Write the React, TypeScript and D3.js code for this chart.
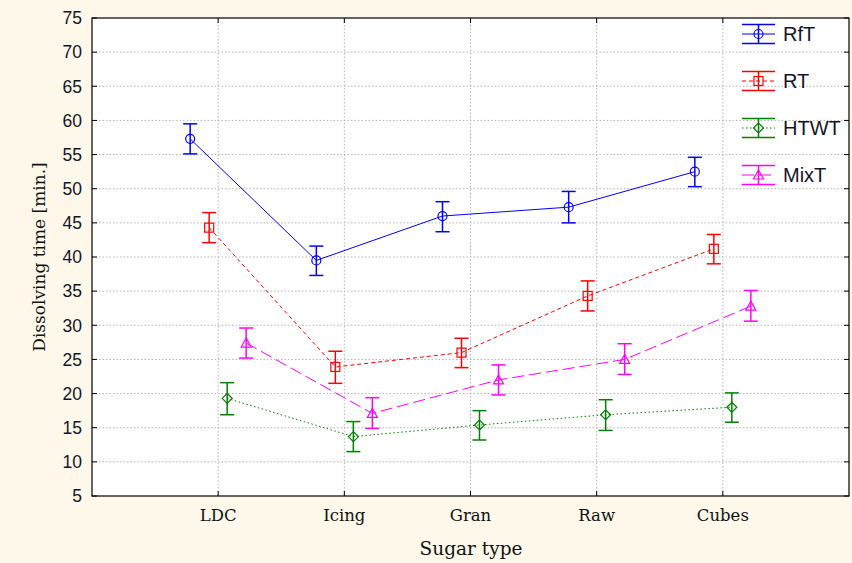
import React from "react";
import * as d3 from "d3";

const categories = ["LDC", "Icing", "Gran", "Raw", "Cubes"];
const seriesNames = ["RfT", "RT", "HTWT", "MixT"];

const rftMean = [57.3, 39.5, 46.0, 47.3, 52.5];
const rftLow = [55.1, 37.3, 43.7, 45.0, 50.3];
const rftHigh = [59.5, 41.6, 48.1, 49.6, 54.6];

const rtMean = [44.3, 23.9, 26.0, 34.3, 41.2];
const rtLow = [42.1, 21.5, 23.8, 32.1, 39.0];
const rtHigh = [46.5, 26.2, 28.1, 36.5, 43.3];

const htwtMean = [19.3, 13.7, 15.4, 16.9, 18.0];
const htwtLow = [16.9, 11.5, 13.2, 14.6, 15.8];
const htwtHigh = [21.6, 15.9, 17.5, 19.1, 20.1];

const mixMean = [27.4, 17.1, 22.0, 25.0, 32.8];
const mixLow = [25.2, 14.9, 19.8, 22.8, 30.6];
const mixHigh = [29.6, 19.4, 24.2, 27.3, 35.1];

const yTicks = [5, 10, 15, 20, 25, 30, 35, 40, 45, 50, 55, 60, 65, 70, 75];

const W = 852;
const H = 563;
const L = 92;
const R = 849;
const T = 18;
const B = 496;

const styles = [
  { color: "#0000ff", dash: "none", marker: "circle", offset: -28 },
  { color: "#ff0000", dash: "4,3", marker: "square", offset: -9 },
  { color: "#008000", dash: "1.5,2.5", marker: "diamond", offset: 9 },
  { color: "#ff00ff", dash: "12,5", marker: "triangle", offset: 28 },
];

const data = [
  { mean: rftMean, low: rftLow, high: rftHigh },
  { mean: rtMean, low: rtLow, high: rtHigh },
  { mean: htwtMean, low: htwtLow, high: htwtHigh },
  { mean: mixMean, low: mixLow, high: mixHigh },
];

const SERIF = "DejaVu Serif, serif";
const SANS = "Liberation Sans, Arial, sans-serif";

function Marker({ kind, x, y, color }: { kind: string; x: number; y: number; color: string }) {
  const sw = 1.2;
  if (kind === "circle") return <circle cx={x} cy={y} r={4.5} fill="none" stroke={color} strokeWidth={sw} />;
  if (kind === "square") return <rect x={x - 4.5} y={y - 4.5} width={9} height={9} fill="none" stroke={color} strokeWidth={sw} />;
  if (kind === "diamond")
    return <path d={`M${x - 5},${y}L${x},${y - 5}L${x + 5},${y}L${x},${y + 5}Z`} fill="none" stroke={color} strokeWidth={sw} />;
  return <path d={`M${x},${y - 5}L${x + 5},${y + 4}L${x - 5},${y + 4}Z`} fill="none" stroke={color} strokeWidth={sw} />;
}

export default function App() {
  const x = d3.scalePoint<string>().domain(categories).range([L, R]).padding(1);
  const y = d3.scaleLinear().domain([5, 75]).range([B, T]);

  return (
    <div style={{ position: "absolute", left: 0, top: 0 }}>
      <svg width={W} height={H} style={{ display: "block" }}>
        <rect x={0} y={0} width={W} height={H} fill="#fdf8e9" />
        <rect x={L} y={T} width={R - L} height={B - T} fill="#ffffff" />
        {/* grid */}
        {yTicks.slice(1, -1).map((t) => (
          <line key={"gy" + t} x1={L} x2={R} y1={y(t)} y2={y(t)} stroke="#b4b4b4" strokeWidth={1} strokeDasharray="1.5,2" />
        ))}
        {categories.map((c) => (
          <line key={"gx" + c} x1={x(c)!} x2={x(c)!} y1={T} y2={B} stroke="#b4b4b4" strokeWidth={1} strokeDasharray="1.5,2" />
        ))}
        {/* ticks */}
        {yTicks.map((t) => (
          <g key={"ty" + t}>
            <line x1={L} x2={L + 5} y1={y(t)} y2={y(t)} stroke="#000" />
            <line x1={R - 5} x2={R} y1={y(t)} y2={y(t)} stroke="#000" />
            <text x={82} y={y(t)} dy="0.36em" textAnchor="end" fontFamily={SANS} fontSize={17.5} fill="#15152a">
              {t}
            </text>
          </g>
        ))}
        {categories.map((c) => (
          <g key={"tx" + c}>
            <line x1={x(c)!} x2={x(c)!} y1={B} y2={B - 5} stroke="#000" />
            <line x1={x(c)!} x2={x(c)!} y1={T} y2={T + 5} stroke="#000" />
            <text x={x(c)!} y={521} textAnchor="middle" fontFamily={SERIF} fontSize={16.5} fill="#111">
              {c}
            </text>
          </g>
        ))}
        {/* series */}
        {data.map((s, i) => {
          const st = styles[i];
          const line = d3
            .line<number>()
            .x((_, j) => x(categories[j])! + st.offset)
            .y((v) => y(v));
          return (
            <g key={"s" + i}>
              <path d={line(s.mean)!} fill="none" stroke={st.color} strokeWidth={1} strokeDasharray={st.dash} />
              {s.mean.map((v, j) => {
                const cx = x(categories[j])! + st.offset;
                return (
                  <g key={j}>
                    <line x1={cx} x2={cx} y1={y(s.low[j])} y2={y(s.high[j])} stroke={st.color} strokeWidth={1.5} />
                    <line x1={cx - 7} x2={cx + 7} y1={y(s.low[j])} y2={y(s.low[j])} stroke={st.color} strokeWidth={1.5} />
                    <line x1={cx - 7} x2={cx + 7} y1={y(s.high[j])} y2={y(s.high[j])} stroke={st.color} strokeWidth={1.5} />
                    <Marker kind={st.marker} x={cx} y={y(v)} color={st.color} />
                  </g>
                );
              })}
            </g>
          );
        })}
        {/* legend */}
        {seriesNames.map((n, i) => {
          const st = styles[i];
          const cy = 34 + i * 47;
          const lx1 = 742;
          const lx2 = 775;
          const mx = (lx1 + lx2) / 2;
          return (
            <g key={"lg" + n}>
              <line x1={lx1} x2={lx2} y1={cy - 9.5} y2={cy - 9.5} stroke={st.color} strokeWidth={1.5} />
              <line x1={lx1} x2={lx2} y1={cy + 9.5} y2={cy + 9.5} stroke={st.color} strokeWidth={1.5} />
              <line x1={mx} x2={mx} y1={cy - 9.5} y2={cy + 9.5} stroke={st.color} strokeWidth={1.5} />
              <line x1={lx1} x2={lx2} y1={cy} y2={cy} stroke={st.color} strokeWidth={1} strokeDasharray={st.dash} />
              <Marker kind={st.marker} x={mx} y={cy} color={st.color} />
              <text x={783} y={cy} dy="0.36em" fontFamily={SANS} fontSize={20} fill="#15152a">
                {n}
              </text>
            </g>
          );
        })}
        <rect x={L} y={T} width={R - L} height={B - T} fill="none" stroke="#000" strokeWidth={1.2} />
        {/* axis titles */}
        <text x={471} y={555} textAnchor="middle" fontFamily={SERIF} fontSize={18.5} fill="#111">
          Sugar type
        </text>
        <text
          transform={`translate(45,257) rotate(-90)`}
          textAnchor="middle"
          fontFamily={SERIF}
          fontSize={17}
          fill="#111"
        >
          Dissolving time [min.]
        </text>
      </svg>
    </div>
  );
}
